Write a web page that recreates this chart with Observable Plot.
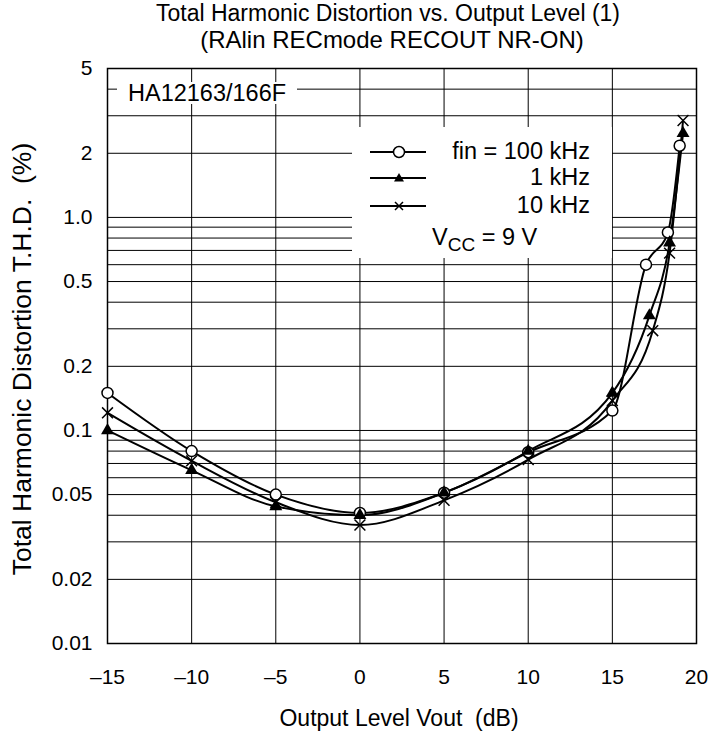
<!DOCTYPE html>
<html><head><meta charset="utf-8">
<script src="https://cdn.jsdelivr.net/npm/d3@7"></script>
<script src="https://cdn.jsdelivr.net/npm/@observablehq/plot@0.6"></script>
<style>
body{margin:0;background:#fff;font-family:"Liberation Sans",Arial,Helvetica,sans-serif;}
#wrap{position:relative;width:710px;height:731px;overflow:hidden;}
.t{position:absolute;white-space:pre;color:#000;line-height:1;}
.c{transform:translate(-50%,-50%);}
</style></head><body><div id="wrap"></div>
<script>
// ---- data ----
const seriesNames = ["fin = 100 kHz", "1 kHz", "10 kHz"];
const x100k = [-15, -10, -5, 0, 5, 10, 15, 17.0, 18.3, 19.0];
const y100k = [0.15, 0.08, 0.05, 0.041, 0.051, 0.079, 0.124, 0.60, 0.85, 2.17];
const x1k   = [-15, -10, -5, 0, 5, 10, 15, 17.2, 18.4, 19.2];
const y1k   = [0.10, 0.065, 0.044, 0.040, 0.051, 0.080, 0.150, 0.346, 0.76, 2.48];
const x10k  = [-15, -10, -5, 0, 5, 10, 15, 17.4, 18.4, 19.2];
const y10k  = [0.121, 0.072, 0.046, 0.036, 0.047, 0.073, 0.138, 0.294, 0.68, 2.85];

const xTicks = [-15, -10, -5, 0, 5, 10, 15, 20];
const yTicks = [5, 2, 1, 0.5, 0.2, 0.1, 0.05, 0.02, 0.01];
const yTickLabels = ["5", "2", "1.0", "0.5", "0.2", "0.1", "0.05", "0.02", "0.01"];
const yGrid = [0.02,0.03,0.04,0.05,0.06,0.07,0.08,0.09,0.1,0.2,0.3,0.4,0.5,0.6,0.7,0.8,0.9,1,2,3,4];
const xGrid = [-10, -5, 0, 5, 10, 15];

const mk = (xs, ys, s) => xs.map((x, i) => ({x, y: ys[i], s}));
const d100 = mk(x100k, y100k, seriesNames[0]);
const d1 = mk(x1k, y1k, seriesNames[1]);
const d10 = mk(x10k, y10k, seriesNames[2]);

const fmtX = d => d < 0 ? "\u2013" + (-d) : String(d);

const chart = Plot.plot({
  width: 710, height: 731,
  marginTop: 68, marginBottom: 88, marginLeft: 107, marginRight: 14,
  style: {fontSize: "21px", fontFamily: '"Liberation Sans", Arial, sans-serif', color: "#000", background: "#fff"},
  x: {domain: [-15, 20]},
  y: {type: "log", domain: [0.01, 5]},
  marks: [
    Plot.ruleY(yGrid, {stroke: "#000", strokeWidth: 1}),
    Plot.ruleX(xGrid, {stroke: "#000", strokeWidth: 1}),
    Plot.frame({stroke: "#000", strokeWidth: 1.5}),
    Plot.axisX(xTicks, {tickSize: 0, tickPadding: 26, tickFormat: fmtX, label: null}),
    Plot.axisY(yTicks, {tickSize: 0, tickPadding: 15, tickFormat: d => yTickLabels[yTicks.indexOf(d)], label: null}),
    Plot.line(d100, {x: "x", y: "y", curve: "monotone-x", stroke: "#000", strokeWidth: 2}),
    Plot.line(d1, {x: "x", y: "y", curve: "monotone-x", stroke: "#000", strokeWidth: 2}),
    Plot.line(d10, {x: "x", y: "y", curve: "monotone-x", stroke: "#000", strokeWidth: 2}),
    Plot.dot(d100, {x: "x", y: "y", symbol: "circle", r: 5.5, fill: "#fff", stroke: "#000", strokeWidth: 1.5}),
    Plot.dot(d1, {x: "x", y: "y", symbol: "triangle", r: 4.8, fill: "#000", stroke: "none"}),
    Plot.dot(d10, {x: "x", y: "y", symbol: "times", r: 5, fill: "none", stroke: "#000", strokeWidth: 1.5})
  ]
});

const wrap = document.getElementById("wrap");
wrap.appendChild(chart);

function addText(html, css, cls) {
  const el = document.createElement("div");
  el.className = "t " + (cls || "");
  el.innerHTML = html;
  Object.assign(el.style, css);
  wrap.appendChild(el);
  return el;
}
addText("Total Harmonic Distortion vs. Output Level (1)", {left: "388px", top: "13px", fontSize: "23px"}, "c");
addText("(RAlin RECmode RECOUT NR-ON)", {left: "392px", top: "40px", fontSize: "24px"}, "c");
addText("Output Level Vout  (dB)", {left: "399px", top: "718px", fontSize: "23px"}, "c");
addText("Total Harmonic Distortion T.H.D.  (%)", {left: "22px", top: "359px", fontSize: "26.5px", transform: "translate(-50%,-50%) rotate(-90deg)"});
// device label
addText("HA12163/166F", {left: "117px", top: "82px", width: "180px", height: "22px", padding: "0 0 0 11px", boxSizing: "border-box", background: "#fff", fontSize: "23.5px"});

// legend
const leg = document.createElement("div");
Object.assign(leg.style, {position: "absolute", left: "352px", top: "127px", width: "260px", height: "131px", background: "#fff"});
wrap.appendChild(leg);
const symSvg = {
  "fin = 100 kHz": '<circle cx="29" cy="8" r="5.5" fill="#fff" stroke="#000" stroke-width="1.5"/>',
  "1 kHz": '<path d="M29,3 L34,11.5 L24,11.5 Z" fill="#000"/>',
  "10 kHz": '<path d="M25,4 L33,12 M33,4 L25,12" stroke="#000" stroke-width="1.5"/>'
};
seriesNames.forEach((name, i) => {
  const cy = [152, 178, 206][i] - 127;
  const s = document.createElement("div");
  Object.assign(s.style, {position: "absolute", left: "18px", top: (cy - 8) + "px"});
  s.innerHTML = '<svg width="58" height="16"><line x1="0" y1="8" x2="56" y2="8" stroke="#000" stroke-width="2"/>' + symSvg[name] + '</svg>';
  leg.appendChild(s);
  const t = document.createElement("div");
  t.className = "t";
  Object.assign(t.style, {right: "22px", top: (cy - 12) + "px", fontSize: "23.5px"});
  t.textContent = name;
  leg.appendChild(t);
});
const vcc = document.createElement("div");
vcc.className = "t";
Object.assign(vcc.style, {left: "80px", top: (238 - 127 - 12) + "px", fontSize: "23.5px"});
vcc.innerHTML = 'V<sub style="font-size:19px;vertical-align:-6px;line-height:0">CC</sub> = 9 V';
leg.appendChild(vcc);
</script>
</body></html>
